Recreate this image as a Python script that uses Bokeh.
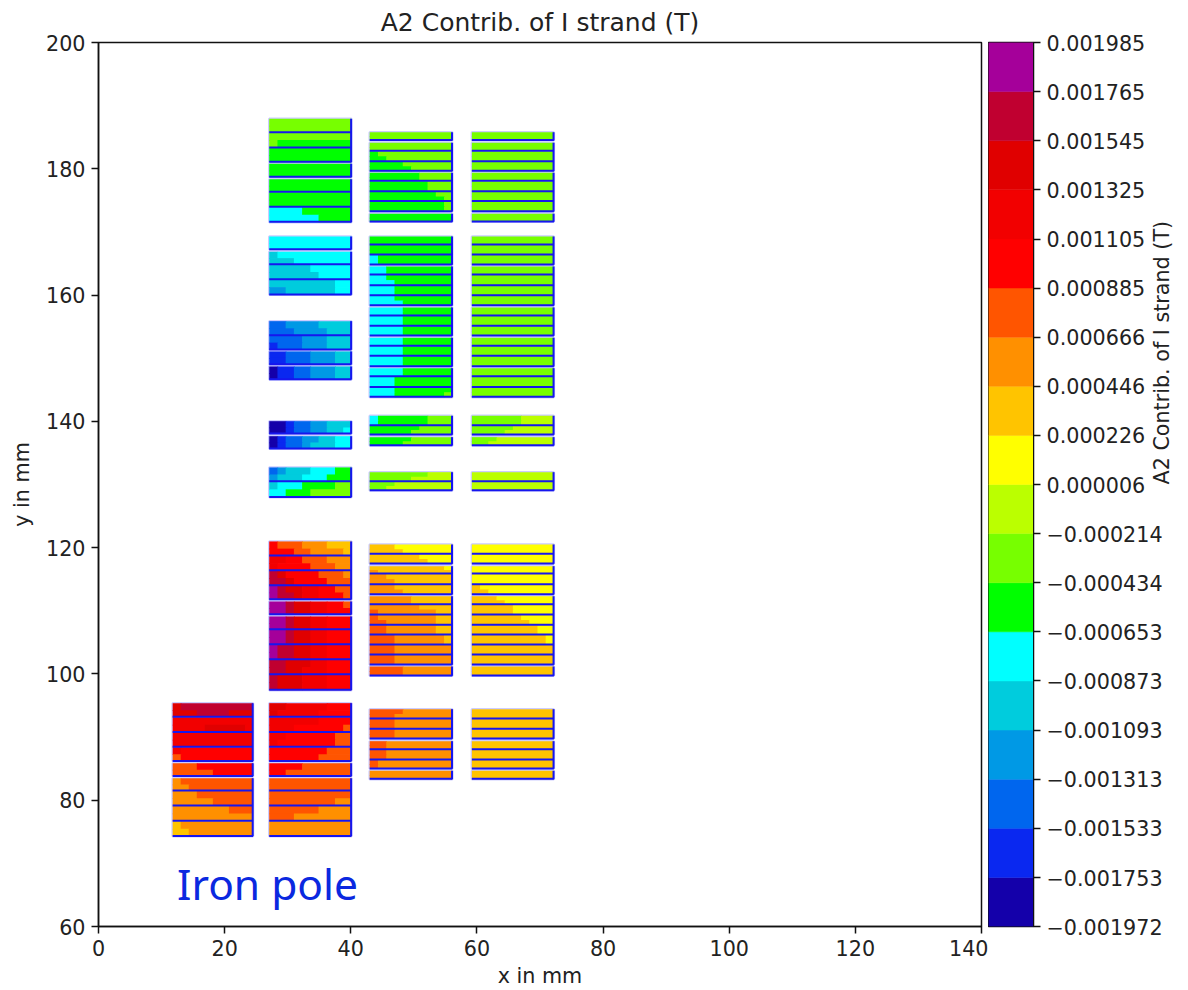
from bokeh.plotting import figure
from bokeh.layouts import row
from bokeh.models import ColumnDataSource, FixedTicker, LinearColorMapper, Range1d
from bokeh.core.properties import value
from bokeh.embed import file_html
from bokeh.resources import INLINE
import math

TITLE = "A2 Contrib. of I strand (T)"
X_TICKS = [0, 20, 40, 60, 80, 100, 120, 140]
Y_TICKS = [60, 80, 100, 120, 140, 160, 180, 200]
CB_TICKS = [-0.001972, -0.001753, -0.001533, -0.001313, -0.001093, -0.000873, -0.000653, -0.000434,
            -0.000214, 0.000006, 0.000226, 0.000446, 0.000666, 0.000885, 0.001105, 0.001325,
            0.001545, 0.001765, 0.001985]
CB_LABELS = ["\u22120.001972", "\u22120.001753", "\u22120.001533", "\u22120.001313", "\u22120.001093",
             "\u22120.000873", "\u22120.000653", "\u22120.000434", "\u22120.000214", "0.000006",
             "0.000226", "0.000446", "0.000666", "0.000885", "0.001105", "0.001325", "0.001545",
             "0.001765", "0.001985"]
PALETTE = ["#1400AA", "#0A28F0", "#0066EE", "#0099E5", "#00CCDD", "#00FFFF", "#00FF00", "#77FF00",
           "#BBFF00", "#FFFF00", "#FFC400", "#FF9000", "#FF5500", "#FF0000", "#F20000", "#E00000",
           "#C00030", "#A5009A"]
BAND_KEYS = "abcdefghijklmnopqr"

# column x extents (mm)
X_A = (11.76, 24.5)
X_B = (27.07, 40.1)
X_C = (43.0, 56.1)
X_D = (59.2, 72.2)

# turn edges (mm), grouped per cable stack
E_LOW_AB = [[95.37, 93.15, 90.77, 88.40, 86.18], [85.86, 83.80], [83.49, 81.49, 79.12, 76.68, 74.30]]
E_MID_B = [[120.98, 118.71, 116.38, 114.01, 111.79], [111.47, 109.41], [109.10, 107.04, 104.66, 102.29, 99.91, 97.43]]
E_MID_CD = [[120.50, 118.97, 117.44], [117.07, 115.86, 114.17, 112.58],
            [112.31, 111.00, 109.37, 107.72, 106.20, 104.62, 103.03, 101.45], [101.18, 99.71]]
E_LOW_CD = [[94.42, 92.90, 91.25, 89.73], [89.35, 88.03, 86.40, 84.98], [84.66, 83.33]]
E_B2 = [[140.03, 138.03], [137.65, 135.66]]
E_B3 = [[132.70, 130.48, 127.99]]
E_CD2 = [[140.88, 139.35, 137.88], [137.50, 136.18]]
E_CD3 = [[131.95, 130.48, 129.05]]
E_B4 = [[169.28, 167.22], [166.86, 164.85, 162.47, 160.05]]
E_B5 = [[155.87, 153.60, 151.34], [151.07, 149.01], [148.69, 146.63]]
E_CD4 = [[169.28, 167.97, 166.38, 164.80], [164.53, 163.22, 161.52, 159.94, 158.35],
         [158.04, 156.72, 155.08, 153.56], [153.24, 151.91, 150.33, 148.69],
         [148.42, 147.11, 145.41, 143.83]]
E_B6 = [[187.92, 185.75, 183.33, 181.05], [180.80, 178.67], [178.36, 176.30, 173.92, 171.55]]
E_CD6 = [[185.80, 184.49], [184.12, 182.79, 181.16, 179.62], [179.37, 178.04, 176.41, 174.83, 173.24], [172.88, 171.61]]

# band letters per turn: upper half / lower half, ten cells across
R_A_LOW = ["pqqqqqqqqq/pppqqqqppp", "oooooooooo/oooopppppo", "oooooooooo/oooooooooo", "onnnnnnnnn/mnnnnnnnnn",
           "mmmnnnnnnn/mmmmmnnnnn", "lmmmmmmmmm/llmmmmmmmm", "lllmmmmmmm/lllllmmmmm", "lllllllmmm/llllllllll",
           "klllllllll/kkllllllll"]
R_B_LOW = ["ppooooonnn/pooooonnnn", "oooooonnnn/ooonnnnnnm", "oonnnnnnmm/onnnnnnnmm", "nnnnnnnmmm/nnnnnnmmmm",
           "nnnnmmmmmm/nnmmmmmmmm", "mmmmmmmmmm/mmmmmmmmmm", "mmmmmmmmmm/mmmmmmmmll", "mmmmmmllll/mmmlllllll",
           "llllllllll/llllllllll"]
R_B_MID = ["nmmmlllkkk/nnnmmllllk", "oonnmmmlll/onnnnmmmll", "qpnnnnmmml/qqpnnnnmmm", "rqppoonnmm/rqqpoonnnm",
           "rrqppoonnm/rrqppoonnn", "rrqppoonnn/rrqppoonnn", "rrqppoonnn/rrqppoonnn", "rqqppoonnn/rqqppoonnn",
           "qqpppoonnn/qqppooonnn", "qpppooonnn/qpppooonnn"]
R_C_MID = ["kkkjjjjjjj/kkkkjjjjjj", "kkkkkkjjjj/kkkkkkkjjj", "kkkkkkkkkj/lkkkkkkkkk", "llkkkkkkkk/lllkkkkkkk",
           "lllkkkkkkk/llllkkkkkk", "lllllkkkkk/lllllkkkkk", "llllllkkkk/mlllllllkk", "mlllllllkk/mmllllllkk",
           "mmllllllkk/mmllllllkk", "mmmllllllk/mmmllllllk", "mmmlllllll/mmmlllllll", "mmmlllllll/mmmlllllll",
           "mmmmllllll/mmmmllllll"]
R_D_MID = ["jjjjjjjjjj/jjjjjjjjjj", "jjjjjjjjjj/jjjjjjjjjj", "jjjjjjjjjj/jjjjjjjjjj", "jjjjjjjjjj/jjjjjjjjjj",
           "kjjjjjjjjj/kkjjjjjjjj", "kkkjjjjjjj/kkkkjjjjjj", "kkkkkjjjjj/kkkkkjjjjj", "kkkkkkjjjj/kkkkkkkjjj",
           "kkkkkkkkjj/kkkkkkkkjj", "kkkkkkkkkj/kkkkkkkkkj", "kkkkkkkkkk/kkkkkkkkkk", "kkkkkkkkkk/kkkkkkkkkk",
           "kkkkkkkkkk/kkkkkkkkkk"]
R_C_LOW = ["mmmmllllll/mmmlllllll", "mmmlllllll/mmmlllllll", "mmmlllllll/mmmlllllll", "mmllllllll/mmllllllll",
           "mmllllllll/mmllllllll", "mlllllllll/mlllllllll", "llllllllll/llllllllll"]
R_D_LOW = ["kkkkkkkkkk/kkkkkkkkkk"] * 7
R_B2 = ["aabccddeee/aabccddeef", "abccddeeff/abccdeeeff"]
R_B3 = ["cdeeefffgg/deeefffggg", "efffgggghh/ffggghhhhh"]
R_C2 = ["fgggggghhh/fgggggghhh", "gggggghhhh/ggggghhhhh", "ggggghhhhh/gggghhhhhh"]
R_C3 = ["hhhhhhhiii/hhhhhiiiii", "hhhiiiiiii/hhiiiiiiii"]
R_D2 = ["hhhhhhiiii/hhhhhhiiii", "hhhhhiiiii/hhhhiiiiii", "hhhiiiiiii/hhiiiiiiii"]
R_D3 = ["iiiiiiiiii/iiiiiiiiii"] * 2
R_B4 = ["ffffffffff/ffffffffff", "efffffffff/eeefffffff", "eeeeefffff/eeeeeeffff", "eeeeeeeeff/ddeeeeeeff"]
R_B5 = ["ccddddeeee/cccddddeee", "ccccdddeee/bcccdddeee", "bbcccdddee/bbcccdddee", "abbccdddee/abbccdddee"]
R_C4 = ["gggggggggg/gggggggggg", "gggggggggg/gggggggggg", "fggggggggg/fggggggggg", "ffgggggggg/ffgggggggg",
        "ffgggggggg/fffggggggg", "fffggggggg/fffggggggg", "fffggggggg/ffffgggggg", "ffffgggggg/ffffgggggg",
        "ffffgggggg/ffffgggggg", "ffffgggggg/ffffgggggg", "ffffgggggg/ffffgggggg", "ffffgggggg/ffffgggggg",
        "ffffgggggg/ffffgggggg", "ffffgggggg/ffffgggggg", "fffggggggg/fffggggggg", "fffggggggg/fffggggggh"]
R_D4 = ["hhhhhhhhhh/hhhhhhhhhh"] * 16
R_B6 = ["hhhhhhhhhh/hhhhhhhhhh", "hhhhhhhhhh/hggggggggg", "gggggggggg/gggggggggg", "gggggggggg/gggggggggg",
        "gggggggggg/gggggggggg", "gggggggggg/gggggggggg", "ffffgggggg/ffffffgggg"]
R_C6 = ["hhhhhhhhhh/hhhhhhhhhh", "hhhhhhhhhh/hhhhhhhhhh", "ghhhhhhhhh/gghhhhhhhh", "gggghhhhhh/ggggghhhhh",
        "gggggghhhh/gggggghhhh", "ggggggghhh/ggggggghhh", "gggggggghh/gggggggggh", "gggggggggh/gggggggggh",
        "gggggggggg/gggggggggg"]
R_D6 = ["hhhhhhhhhh/hhhhhhhhhh"] * 9

IRON_LABEL = "Iron pole"
IRON_X = [12.45]
IRON_Y = [66.8]

BLOCKS = [(X_A, E_LOW_AB, R_A_LOW), (X_B, E_LOW_AB, R_B_LOW), (X_B, E_MID_B, R_B_MID),
          (X_C, E_MID_CD, R_C_MID), (X_D, E_MID_CD, R_D_MID), (X_C, E_LOW_CD, R_C_LOW),
          (X_D, E_LOW_CD, R_D_LOW), (X_B, E_B2, R_B2), (X_B, E_B3, R_B3), (X_C, E_CD2, R_C2),
          (X_C, E_CD3, R_C3), (X_D, E_CD2, R_D2), (X_D, E_CD3, R_D3), (X_B, E_B4, R_B4),
          (X_B, E_B5, R_B5), (X_C, E_CD4, R_C4), (X_D, E_CD4, R_D4), (X_B, E_B6, R_B6),
          (X_C, E_CD6, R_C6), (X_D, E_CD6, R_D6)]

LOW, HIGH = CB_TICKS[0], CB_TICKS[-1]
STEP = (HIGH - LOW) / len(PALETTE)
band_value = {k: LOW + (i + 0.5) * STEP for i, k in enumerate(BAND_KEYS)}
mapper = LinearColorMapper(palette=PALETTE, low=LOW, high=HIGH)

cells = dict(left=[], right=[], top=[], bottom=[], v=[])
halo = dict(left=[], right=[], top=[], bottom=[])
hline = dict(x0=[], x1=[], y=[])
vline = dict(x=[], y0=[], y1=[])
OVERLAP = 0.12  # mm, later cells paint over this so no seams show

for (x0, x1), groups, rows in BLOCKS:
    idx = 0
    w = (x1 - x0) / 10
    for edges in groups:
        halo["left"].append(x0); halo["right"].append(x1)
        halo["top"].append(edges[0]); halo["bottom"].append(edges[-1])
        vline["x"].append(x1 - 0.05); vline["y0"].append(edges[0]); vline["y1"].append(edges[-1])
        for t, b in zip(edges[:-1], edges[1:]):
            parts = rows[idx].split("/")
            idx += 1
            mid = (t + b) / 2
            for s, (yt, yb) in zip(parts, [(t, mid), (mid, b)]):
                start = 0
                for i in range(1, 11):
                    if i == 10 or s[i] != s[start]:
                        cells["left"].append(x0 + start * w)
                        cells["right"].append(x0 + i * w + (OVERLAP if i < 10 else 0))
                        cells["top"].append(yt)
                        cells["bottom"].append(yb - (OVERLAP if yb == mid else 0))
                        cells["v"].append(band_value[s[start]])
                        start = i
            hline["x0"].append(x0); hline["x1"].append(x1); hline["y"].append(b + 0.05)

FONT = "DejaVu Sans"
FS = "20.7px"
INK = "#222222"

p = figure(width=988, height=990, output_backend="svg", toolbar_location=None,
           x_range=Range1d(X_TICKS[0], X_TICKS[-1]), y_range=Range1d(Y_TICKS[0], Y_TICKS[-1]),
           title=TITLE, min_border_left=98, min_border_right=7, min_border_top=42, min_border_bottom=64)
p.title.text_font = FONT
p.title.text_font_size = "25px"
p.title.text_font_style = "normal"
p.title.text_color = INK
p.title.align = "center"
p.title.standoff = 11
p.grid.visible = False
p.outline_line_color = "#111111"
p.outline_line_width = 1.5
p.background_fill_color = "white"
p.xaxis.ticker = FixedTicker(ticks=X_TICKS)
p.yaxis.ticker = FixedTicker(ticks=Y_TICKS)
p.xaxis.axis_label = "x in mm"
p.yaxis.axis_label = "y in mm"
for ax in [p.xaxis[0], p.yaxis[0]]:
    ax.major_label_text_font = FONT
    ax.major_label_text_font_size = FS
    ax.major_label_text_color = INK
    ax.axis_label_text_font = FONT
    ax.axis_label_text_font_size = FS
    ax.axis_label_text_font_style = "normal"
    ax.axis_label_text_color = INK
    ax.major_tick_in = 0
    ax.major_tick_out = 7
    ax.major_tick_line_width = 1.5
    ax.major_tick_line_color = "#111111"
    ax.minor_tick_line_color = None
    ax.axis_line_color = "#111111"
    ax.axis_line_width = 1.5
p.xaxis.major_label_standoff = 6
p.yaxis.major_label_standoff = 6
p.xaxis.axis_label_standoff = 5
p.yaxis.axis_label_standoff = 9

p.quad(source=ColumnDataSource(halo), left="left", right="right", top="top", bottom="bottom",
       fill_color=None, line_color="#ccccff", line_width=2.5)
p.quad(source=ColumnDataSource(cells), left="left", right="right", top="top", bottom="bottom",
       fill_color=dict(field="v", transform=mapper), line_color=None)
p.segment(source=ColumnDataSource(hline), x0="x0", x1="x1", y0="y", y1="y", line_color="#1616EE", line_width=2)
p.segment(source=ColumnDataSource(vline), x0="x", x1="x", y0="y0", y1="y1", line_color="#1616EE", line_width=2)
p.text(x=IRON_X, y=IRON_Y, text=[IRON_LABEL], text_font=value("Noto Sans"), text_font_size="42.5px",
       text_color="#0A28E0", text_baseline="alphabetic", text_align="left")

cb = figure(width=200, height=990, output_backend="svg", toolbar_location=None,
            x_range=Range1d(0, 1), y_range=Range1d(LOW, HIGH), y_axis_location="right",
            min_border_left=0, min_border_right=153, min_border_top=42, min_border_bottom=64)
cb.grid.visible = False
cb.xaxis.visible = False
cb.outline_line_color = "#111111"
cb.outline_line_width = 1.5
edges = [LOW + i * STEP for i in range(len(PALETTE) + 1)]
cb.quad(left=[0] * len(PALETTE), right=[1] * len(PALETTE), bottom=edges[:-1], top=edges[1:],
        fill_color=PALETTE, line_color=PALETTE, line_width=0.5)
cb.yaxis.ticker = FixedTicker(ticks=CB_TICKS)
cb.yaxis.major_label_overrides = {t: l for t, l in zip(CB_TICKS, CB_LABELS)}
cb.yaxis.major_label_text_font = FONT
cb.yaxis.major_label_text_font_size = FS
cb.yaxis.major_label_text_color = INK
cb.yaxis.major_label_standoff = 6
cb.yaxis.major_tick_in = 0
cb.yaxis.major_tick_out = 7
cb.yaxis.major_tick_line_width = 1.5
cb.yaxis.major_tick_line_color = "#111111"
cb.yaxis.minor_tick_line_color = None
cb.yaxis.axis_line_color = "#111111"
cb.yaxis.axis_label = TITLE
cb.yaxis.axis_label_standoff = -4
cb.yaxis.axis_label_orientation = math.pi / 2
cb.yaxis.axis_label_text_font = FONT
cb.yaxis.axis_label_text_font_size = FS
cb.yaxis.axis_label_text_font_style = "normal"
cb.yaxis.axis_label_text_color = INK

layout = row(p, cb, spacing=0)
open("out.html", "w").write(file_html(layout, INLINE))
